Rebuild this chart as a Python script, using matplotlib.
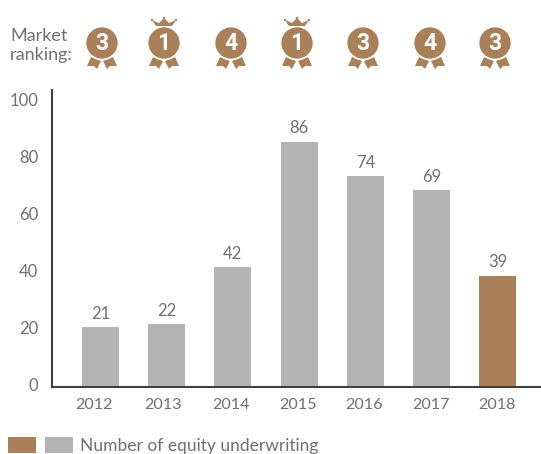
import matplotlib
matplotlib.use('Agg')
import matplotlib.pyplot as plt
from matplotlib.patches import Circle, Polygon, Rectangle
from matplotlib.transforms import ScaledTranslation

years = ['2012', '2013', '2014', '2015', '2016', '2017', '2018']
deals = [21, 22, 42, 86, 74, 69, 39]
ranks = [3, 1, 4, 1, 3, 4, 3]
yticks = [0, 20, 40, 60, 80, 100]

BROWN = '#a98058'
GREY = '#b3b3b3'
TEXT = '#707070'
DARK = '#404040'

plt.rcParams['font.family'] = ['Lato', 'DejaVu Sans']
W, H = 541, 454
fig = plt.figure(figsize=(W / 100, H / 100), dpi=100)

# main axes, sized in pixels
left, right, top, bottom = 52, 541, 90, 387
ax = fig.add_axes([left / W, (H - bottom) / H, (right - left) / W, (bottom - top) / H])
colors = [GREY] * 6 + [BROWN]
xs = range(len(years))
ax.bar(xs, deals, width=0.56, color=colors, linewidth=0)
ax.set_xlim(-0.73, 6.65)
ax.set_ylim(0, (bottom - top) / 2.85)

for x, v in zip(xs, deals):
    ax.annotate(str(v), (x, v), xytext=(0, 4), textcoords='offset points',
                ha='center', va='bottom', fontsize=12, color=TEXT)

ax.set_xticks(list(xs), years)
ax.set_yticks(yticks)
ax.tick_params(length=0, labelcolor=TEXT)
ax.tick_params(axis='x', pad=8, labelsize=11.6)
ax.tick_params(axis='y', pad=10, labelsize=12)
# y labels sit a little above their tick position
for lab in ax.get_yticklabels():
    lab.set_transform(lab.get_transform() + ScaledTranslation(0, 2.5 / 100, fig.dpi_scale_trans))
# year labels drift left of the bars, more so at the start
year_shift = [-6, -4, -1.5, -1.5, -1, -1, -0.5]
for lab, dx in zip(ax.get_xticklabels(), year_shift):
    lab.set_transform(lab.get_transform() + ScaledTranslation(dx / 100, 0, fig.dpi_scale_trans))
for s in ['top', 'right']:
    ax.spines[s].set_visible(False)
for s in ['left', 'bottom']:
    ax.spines[s].set_color(DARK)
    ax.spines[s].set_linewidth(1.5)

# overlay in pixel coords for the medals and legend
ov = fig.add_axes([0, 0, 1, 1], zorder=5)
ov.set_xlim(0, W)
ov.set_ylim(H, 0)
ov.axis('off')
ov.patch.set_alpha(0)


def medal(cx, cy, rank):
    rib = [(-11, 14), (-15, 23), (-8, 23), (-5, 26), (-1, 18)]
    ov.add_patch(Polygon([(cx + a, cy + b) for a, b in rib], fc=BROWN, ec='none'))
    ov.add_patch(Polygon([(cx - a, cy + b) for a, b in rib], fc=BROWN, ec='none'))
    ov.add_patch(Circle((cx, cy), 16.5, fc=BROWN, ec='white', lw=1.2))
    ov.text(cx, cy + 0.5, str(rank), color='white', fontsize=16.5, fontweight='bold',
            family='Roboto', ha='center', va='center')
    if rank == 1:
        crown = [(-8, -17), (-12, -23), (-5, -20), (0, -25), (5, -20), (12, -23), (8, -17)]
        ov.add_patch(Polygon([(cx + a, cy + b) for a, b in crown], fc=BROWN, ec='none'))
        for a, b in [(-12, -23), (0, -25), (12, -23)]:
            ov.add_patch(Circle((cx + a, cy + b), 1.2, fc=BROWN, ec='none'))


medal_x = [102, 164, 231, 297, 363, 430, 495]
for mx, r in zip(medal_x, ranks):
    medal(mx, 43, r)

ov.text(10, 36, 'Market', fontsize=13, color=TEXT, va='center', ha='left')
ov.text(10, 55, 'ranking:', fontsize=13, color=TEXT, va='center', ha='left')

ov.add_patch(Rectangle((8, 437), 28, 16, fc=BROWN, ec='none'))
ov.add_patch(Rectangle((45, 437), 28, 16, fc=GREY, ec='none'))
ov.text(80, 446, 'Number of equity underwriting', fontsize=12.5, color=TEXT, va='center', ha='left')

fig.savefig('out.png', dpi=100)
